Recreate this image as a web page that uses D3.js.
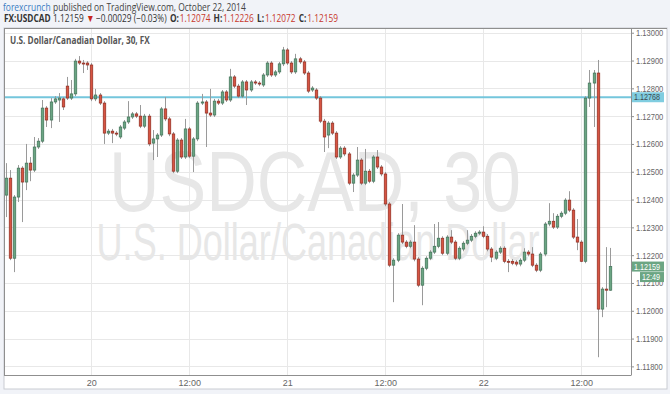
<!DOCTYPE html>
<html>
<head>
<meta charset="utf-8">
<script src="https://cdn.jsdelivr.net/npm/d3@7"></script>
<style>
	body { margin: 0; background: #f1f3f8; }
	svg { display: block; }
</style>
</head>
<body>
<div id="chart"></div>
<script>
// USDCAD 30 min bars, first bar Oct 19 13:30
var firstBar = "2014-10-19T13:30:00"
var barMinutes = 30

var opens = [1.12416,1.12477,1.12189,1.12409,1.12513,1.12463,1.12531,1.12506,1.12589,1.12610,
	1.12729,1.12686,1.12751,1.12758,1.12762,1.12808,1.12765,1.12780,1.12898,1.12891,
	1.12891,1.12884,1.12762,1.12776,1.12747,1.12639,1.12646,1.12639,1.12625,1.12657,
	1.12679,1.12697,1.12708,1.12700,1.12664,1.12700,1.12603,1.12618,1.12632,1.12726,
	1.12690,1.12636,1.12502,1.12614,1.12553,1.12654,1.12556,1.12618,1.12747,1.12751,
	1.12711,1.12704,1.12754,1.12747,1.12787,1.12758,1.12841,1.12808,1.12772,1.12823,
	1.12794,1.12823,1.12819,1.12812,1.12848,1.12891,1.12848,1.12859,1.12888,1.12938,
	1.12891,1.12859,1.12906,1.12895,1.12855,1.12794,1.12794,1.12765,1.12682,1.12632,
	1.12675,1.12639,1.12553,1.12585,1.12564,1.12459,1.12488,1.12542,1.12459,1.12502,
	1.12466,1.12553,1.12517,1.12492,1.12384,1.12164,1.12182,1.12272,1.12247,1.12232,
	1.12247,1.12186,1.12092,1.12153,1.12189,1.12211,1.12232,1.12261,1.12207,1.12265,
	1.12247,1.12189,1.12222,1.12243,1.12254,1.12268,1.12279,1.12283,1.12268,1.12222,
	1.12189,1.12211,1.12225,1.12178,1.12178,1.12175,1.12168,1.12182,1.12211,1.12204,
	1.12164,1.12146,1.12204,1.12312,1.12322,1.12301,1.12340,1.12351,1.12398,1.12362,
	1.12265,1.12247,1.12178,1.12765,1.12819,1.12855,1.12006,1.12078,1.12074]

var highs = [1.12531,1.12506,1.12416,1.12524,1.12520,1.12600,1.12553,1.12625,1.12621,1.12758,
	1.12736,1.12765,1.12772,1.12783,1.12769,1.12841,1.12830,1.12906,1.12916,1.12902,
	1.12898,1.12891,1.12798,1.12783,1.12754,1.12654,1.12654,1.12646,1.12668,1.12686,
	1.12754,1.12715,1.12715,1.12740,1.12708,1.12708,1.12650,1.12639,1.12733,1.12769,
	1.12697,1.12643,1.12621,1.12621,1.12690,1.12661,1.12625,1.12754,1.12780,1.12758,
	1.12798,1.12762,1.12762,1.12794,1.12794,1.12870,1.12848,1.12816,1.12830,1.12830,
	1.12830,1.12830,1.12826,1.12855,1.12898,1.12898,1.12866,1.12895,1.12949,1.12945,
	1.12898,1.12924,1.12913,1.12902,1.12862,1.12808,1.12801,1.12772,1.12690,1.12682,
	1.12682,1.12646,1.12592,1.12592,1.12571,1.12495,1.12589,1.12549,1.12582,1.12510,
	1.12560,1.12578,1.12524,1.12499,1.12391,1.12189,1.12279,1.12384,1.12254,1.12254,
	1.12308,1.12193,1.12160,1.12196,1.12218,1.12312,1.12319,1.12268,1.12272,1.12290,
	1.12254,1.12232,1.12250,1.12290,1.12276,1.12286,1.12290,1.12304,1.12276,1.12229,
	1.12218,1.12232,1.12232,1.12186,1.12186,1.12182,1.12189,1.12225,1.12218,1.12229,
	1.12171,1.12211,1.12319,1.12387,1.12351,1.12348,1.12358,1.12405,1.12430,1.12369,
	1.12330,1.12254,1.12772,1.12866,1.12866,1.12902,1.12085,1.12229,1.12226]

var lows = [1.12337,1.12182,1.12139,1.12391,1.12319,1.12434,1.12466,1.12499,1.12582,1.12603,
	1.12661,1.12657,1.12744,1.12679,1.12722,1.12758,1.12758,1.12772,1.12884,1.12855,
	1.12866,1.12754,1.12754,1.12740,1.12600,1.12632,1.12603,1.12628,1.12618,1.12650,
	1.12672,1.12690,1.12693,1.12657,1.12657,1.12592,1.12542,1.12553,1.12625,1.12682,
	1.12628,1.12495,1.12495,1.12546,1.12546,1.12549,1.12499,1.12610,1.12740,1.12589,
	1.12697,1.12697,1.12740,1.12740,1.12751,1.12751,1.12801,1.12765,1.12765,1.12740,
	1.12787,1.12812,1.12808,1.12805,1.12841,1.12841,1.12841,1.12852,1.12880,1.12884,
	1.12852,1.12852,1.12888,1.12848,1.12783,1.12787,1.12758,1.12675,1.12571,1.12585,
	1.12632,1.12546,1.12546,1.12556,1.12452,1.12427,1.12481,1.12452,1.12452,1.12459,
	1.12459,1.12510,1.12484,1.12376,1.12157,1.12031,1.12175,1.12240,1.12225,1.12225,
	1.12178,1.12085,1.12020,1.12146,1.12182,1.12204,1.12225,1.12200,1.12200,1.12240,
	1.12182,1.12182,1.12214,1.12236,1.12247,1.12261,1.12272,1.12261,1.12214,1.12175,
	1.12182,1.12204,1.12171,1.12139,1.12164,1.12160,1.12160,1.12175,1.12196,1.12157,
	1.12139,1.12139,1.12196,1.12304,1.12294,1.12294,1.12333,1.12344,1.12355,1.12258,
	1.12218,1.12175,1.12171,1.12733,1.12661,1.11833,1.11977,1.12013,1.12072]

var closes = [1.12477,1.12189,1.12409,1.12513,1.12463,1.12531,1.12506,1.12589,1.12610,1.12729,
	1.12686,1.12751,1.12762,1.12765,1.12733,1.12765,1.12780,1.12898,1.12891,1.12888,
	1.12884,1.12762,1.12776,1.12747,1.12639,1.12646,1.12639,1.12636,1.12661,1.12679,
	1.12697,1.12708,1.12700,1.12664,1.12700,1.12600,1.12618,1.12632,1.12726,1.12690,
	1.12636,1.12502,1.12614,1.12553,1.12654,1.12556,1.12618,1.12747,1.12751,1.12711,
	1.12704,1.12754,1.12747,1.12787,1.12758,1.12841,1.12808,1.12772,1.12823,1.12794,
	1.12823,1.12819,1.12816,1.12848,1.12891,1.12848,1.12859,1.12888,1.12938,1.12891,
	1.12859,1.12906,1.12895,1.12855,1.12790,1.12801,1.12765,1.12682,1.12625,1.12675,
	1.12639,1.12553,1.12585,1.12564,1.12459,1.12488,1.12542,1.12459,1.12502,1.12466,
	1.12553,1.12517,1.12492,1.12384,1.12164,1.12182,1.12272,1.12247,1.12232,1.12247,
	1.12186,1.12092,1.12153,1.12189,1.12211,1.12232,1.12261,1.12207,1.12265,1.12247,
	1.12189,1.12225,1.12243,1.12254,1.12268,1.12279,1.12283,1.12268,1.12222,1.12193,
	1.12211,1.12225,1.12178,1.12175,1.12171,1.12168,1.12182,1.12211,1.12204,1.12164,
	1.12146,1.12204,1.12312,1.12322,1.12301,1.12340,1.12351,1.12398,1.12362,1.12265,
	1.12247,1.12178,1.12765,1.12819,1.12855,1.12006,1.12078,1.12074,1.12159]

var priceTicks = [1.118,1.119,1.120,1.121,1.122,1.123,1.124,1.125,1.126,1.127,1.128,1.129,1.130]
var timeTicks = ["2014-10-20T00:00:00","2014-10-20T12:00:00","2014-10-21T00:00:00","2014-10-21T12:00:00","2014-10-22T00:00:00","2014-10-22T12:00:00"]
var timeTickLabels = ["20","12:00","21","12:00","22","12:00"]

var alertPrice = 1.12768
var lastPrice = 1.12159
var lastClock = "12:49"

var width = 670, height = 394
var plotLeft = 4, plotTop = 28, plotRight = 631, plotBottom = 375

var svg = d3.select("#chart").append("svg").attr("width",width).attr("height",height)
	.style("font-family","'Liberation Sans', Arial, sans-serif")

svg.append("rect").attr("width",width).attr("height",height).attr("fill","#f1f3f8")
svg.append("rect").attr("x",plotLeft).attr("y",plotTop).attr("width",663).attr("height",361)
	.attr("fill","#fff").attr("stroke","#c9ccd2")

// the screenshot is squeezed sideways, so texts get a horizontal scale to fit their width
function squeeze(t,cx,cy,w) {
	var s = w / t.node().getComputedTextLength()
	t.attr("x",0).attr("y",0).attr("transform","translate("+cx+","+cy+") scale("+s+",1)")
}

function headerRow(parts,x0,y0,w,size) {
	var g = svg.append("g").style("font-family","'Open Sans', sans-serif").style("font-size",size+"px")
	var cx = 0
	parts.forEach(function(p){
		var t = g.append("text").attr("x",cx).attr("y",0).attr("fill",p[1]).style("font-weight",p[2]).text(p[0])
		cx += t.node().getComputedTextLength() + p[3]
	})
	g.attr("transform","translate("+x0+","+y0+") scale("+(w/cx)+",1)")
}
var red = "#c8382c", ink = "#333"
headerRow([["forexcrunch","#3a7cc3",400,3],["published on TradingView.com, October 22, 2014","#444",400,0]],3,10.5,243,10.5)
headerRow([["FX:USDCAD",ink,700,3],["1.12159",ink,400,3],["\u25BC","#c8281c",400,2],["\u22120.00029 (\u22120.03%)",ink,400,4],
	["O:",ink,700,1],["1.12074",red,400,4],["H:",ink,700,1],["1.12226",red,400,4],
	["L:",ink,700,1],["1.12072",red,400,4],["C:",ink,700,1],["1.12159",red,400,0]],4,21.5,334,10.5)

var t0 = new Date(firstBar)
var step = barMinutes*60*1000
var times = opens.map(function(d,i){return new Date(t0.getTime() + i*step)})

var x = d3.scaleTime()
	.domain([new Date(t0.getTime() - 0.39*step), new Date(t0.getTime() + 153.17*step)])
	.range([plotLeft,plotRight])
var y = d3.scaleLinear().domain([1.11769,1.13017]).range([plotBottom,plotTop])

// grid
var grid = svg.append("g")
grid.selectAll("line.h").data(priceTicks).enter().append("line")
	.attr("x1",plotLeft).attr("x2",plotRight)
	.attr("y1",function(d){return Math.round(y(d))+0.5}).attr("y2",function(d){return Math.round(y(d))+0.5})
	.attr("stroke","#e8e8e8")
grid.selectAll("line.v").data(timeTicks).enter().append("line")
	.attr("x1",function(d){return Math.round(x(new Date(d)))+0.5}).attr("x2",function(d){return Math.round(x(new Date(d)))+0.5})
	.attr("y1",plotTop).attr("y2",plotBottom)
	.attr("stroke","#e8e8e8")

// watermark
var wm1 = svg.append("text").attr("text-anchor","middle").style("font-size","86px").attr("fill","#e7e7e7").text("USDCAD, 30")
squeeze(wm1,315,211,412)
var wm2 = svg.append("text").attr("text-anchor","middle").style("font-size","52px").attr("fill","#e7e7e7").text("U.S. Dollar/Canadian Dollar")
squeeze(wm2,318,260,443)

var title = svg.append("text").style("font-family","'Open Sans', sans-serif")
	.style("font-size","10.5px").style("font-weight","bold").attr("fill","#555")
	.text("U.S. Dollar/Canadian Dollar, 30, FX")
squeeze(title,10,44,140)

// alert line
svg.append("line").attr("x1",plotLeft).attr("x2",plotRight)
	.attr("y1",y(alertPrice)).attr("y2",y(alertPrice))
	.attr("stroke","#74c6dc").attr("stroke-width",2)

// candles
var bw = (x(times[1]) - x(times[0])) * 0.62
var bars = svg.append("g").selectAll("g").data(times).enter().append("g")
bars.append("line")
	.attr("x1",function(d){return Math.round(x(d))+0.5}).attr("x2",function(d){return Math.round(x(d))+0.5})
	.attr("y1",function(d,i){return y(highs[i])}).attr("y2",function(d,i){return y(lows[i])})
	.attr("stroke","#9a9a9a").attr("stroke-width",1)
bars.append("rect")
	.attr("x",function(d){return Math.round(x(d))+0.5 - bw/2})
	.attr("y",function(d,i){return y(Math.max(opens[i],closes[i]))})
	.attr("width",bw)
	.attr("height",function(d,i){return Math.max(1, Math.abs(y(opens[i]) - y(closes[i])))})
	.attr("fill",function(d,i){return closes[i] >= opens[i] ? "#6ba583" : "#d75442"})
	.attr("stroke",function(d,i){return closes[i] >= opens[i] ? "#3f7157" : "#8e2c20"})
	.attr("stroke-width",0.7)

// axes
var yAxis = svg.append("g").attr("transform","translate("+plotRight+",0)")
	.call(d3.axisRight(y).tickValues(priceTicks).tickFormat(d3.format(".5f")).tickSize(3).tickSizeOuter(0).tickPadding(2))
yAxis.select(".domain").attr("stroke","#8f8f8f")
yAxis.selectAll(".tick line").attr("stroke","#8f8f8f")
yAxis.selectAll("text").attr("fill","#666").style("font-size","9px")
	.attr("x",0).attr("transform","translate(5,0) scale(0.84,1)")

var xAxis = svg.append("g").attr("transform","translate(0,"+plotBottom+")")
	.call(d3.axisBottom(x).tickValues(timeTicks.map(function(d){return new Date(d)}))
		.tickFormat(function(d,i){return timeTickLabels[i]}).tickSize(0).tickSizeOuter(0).tickPadding(5))
xAxis.select(".domain").attr("stroke","#8f8f8f").attr("d","M"+plotLeft+",0.5H"+plotRight)
xAxis.selectAll("text").attr("fill","#666").style("font-size","9px")

svg.append("line").attr("x1",plotLeft+0.5).attr("x2",plotLeft+0.5).attr("y1",plotTop).attr("y2",plotBottom).attr("stroke","#8f8f8f")
svg.append("line").attr("x1",plotLeft).attr("x2",667).attr("y1",plotTop+0.5).attr("y2",plotTop+0.5).attr("stroke","#8f8f8f")

// price tags
function tag(price,label,fill,color,x0,dy) {
	var cy = y(price) + dy
	svg.append("rect").attr("x",x0).attr("y",cy-5).attr("width",664-x0).attr("height",10).attr("fill",fill)
	var t = svg.append("text").attr("fill",color).style("font-size","8.5px").text(label)
	squeeze(t,x0+2,cy+3,660-x0-2)
}
tag(alertPrice,d3.format(".5f")(alertPrice),"#80cde0","#3c4a50",632,0)
tag(lastPrice,d3.format(".5f")(lastPrice),"#6ba583","#fff",632,0)
tag(lastPrice,lastClock,"#6ba583","#fff",640,10.5)
</script>
</body>
</html>
